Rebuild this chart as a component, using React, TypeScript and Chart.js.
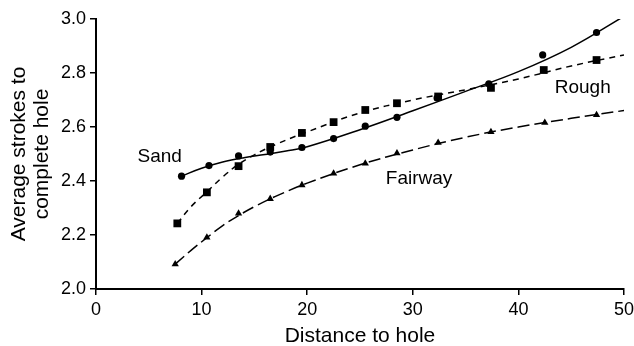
import React, { useEffect, useRef } from 'react';
import { Chart, registerables } from 'chart.js';

Chart.register(...registerables);

const FONT = '"Liberation Sans", Arial, Helvetica, sans-serif';

const xTicks = [0, 10, 20, 30, 40, 50];
const yTicks = [2.0, 2.2, 2.4, 2.6, 2.8, 3.0];
const yTickLabels = ['2.0', '2.2', '2.4', '2.6', '2.8', '3.0'];

// Observed points
const sandX = [8.1, 10.7, 13.5, 16.5, 19.5, 22.5, 25.5, 28.5, 32.3, 37.2, 42.3, 47.4];
const sandY = [2.418, 2.457, 2.493, 2.507, 2.524, 2.557, 2.603, 2.636, 2.707, 2.76, 2.867, 2.95];
const roughX = [7.7, 10.5, 13.5, 16.5, 19.5, 22.5, 25.5, 28.5, 32.4, 37.4, 42.4, 47.4];
const roughY = [2.243, 2.358, 2.455, 2.526, 2.578, 2.618, 2.663, 2.688, 2.713, 2.745, 2.811, 2.848];
const fairwayX = [7.5, 10.5, 13.5, 16.5, 19.5, 22.5, 25.5, 28.5, 32.4, 37.4, 42.5, 47.4];
const fairwayY = [2.092, 2.191, 2.28, 2.334, 2.385, 2.428, 2.465, 2.503, 2.542, 2.582, 2.616, 2.645];

// Fitted curves
const sandCurveX = [8.1, 10, 12, 14, 16, 18, 20, 25, 30, 35, 40, 45, 50];
const sandCurveY = [2.418, 2.447, 2.47, 2.486, 2.498, 2.511, 2.527, 2.59, 2.66, 2.732, 2.805, 2.895, 3.01];
const roughCurveX = [7.7, 9, 10.5, 12, 13.5, 15, 17, 20, 25, 30, 35, 40, 45, 50];
const roughCurveY = [2.243, 2.305, 2.36, 2.415, 2.462, 2.497, 2.535, 2.582, 2.652, 2.7, 2.738, 2.778, 2.826, 2.867];
const fairwayCurveX = [7.5, 9, 10.5, 12, 13.5, 15, 17, 20, 25, 30, 35, 40, 45, 50];
const fairwayCurveY = [2.092, 2.143, 2.19, 2.235, 2.272, 2.305, 2.343, 2.392, 2.46, 2.515, 2.562, 2.6, 2.632, 2.661];

// Series labels
const labelNames = ['Sand', 'Rough', 'Fairway'];
const labelX = [6.03, 46.09, 30.59];
const labelY = [2.49, 2.745, 2.407];

const zip = (xs: number[], ys: number[]) => xs.map((x, i) => ({ x, y: ys[i] }));

const labelPlugin = {
  id: 'seriesLabels',
  afterDatasetsDraw(chart: any) {
    const { ctx, scales } = chart;
    const xs = scales.x;
    const ys = scales.y;
    ctx.save();
    ctx.font = `19px ${FONT}`;
    ctx.fillStyle = '#000';
    ctx.textAlign = 'center';
    ctx.textBaseline = 'middle';
    labelNames.forEach((t, i) => {
      ctx.fillText(t, xs.getPixelForValue(labelX[i]), ys.getPixelForValue(labelY[i]));
    });
    ctx.restore();
  },
};

export default function App() {
  const ref = useRef<HTMLCanvasElement | null>(null);

  useEffect(() => {
    if (!ref.current) return;
    const curve = (xs: number[], ys: number[], dash: number[]) => ({
      data: zip(xs, ys),
      showLine: true,
      borderColor: '#000',
      borderWidth: 1.5,
      borderDash: dash,
      pointRadius: 0,
      tension: 0.4,
      fill: false,
    });
    const pts = (xs: number[], ys: number[], style: string, r: number) => ({
      data: zip(xs, ys),
      showLine: false,
      pointStyle: style,
      pointRadius: r,
      pointBackgroundColor: '#000',
      pointBorderColor: '#000',
      pointBorderWidth: 0,
    });
    const chart = new Chart(ref.current, {
      type: 'scatter',
      data: {
        datasets: [
          curve(sandCurveX, sandCurveY, []),
          curve(roughCurveX, roughCurveY, [6, 5]),
          curve(fairwayCurveX, fairwayCurveY, [12, 5]),
          pts(sandX, sandY, 'circle', 3.6),
          pts(roughX, roughY, 'rect', 5.5),
          pts(fairwayX, fairwayY, 'triangle', 4.2),
        ] as any,
      },
      options: {
        animation: false,
        responsive: true,
        maintainAspectRatio: false,
        layout: { padding: { left: 8, top: 19, right: 10, bottom: 0 } },
        plugins: { legend: { display: false }, tooltip: { enabled: false } },
        scales: {
          x: {
            type: 'linear',
            min: 0,
            max: 50,
            afterBuildTicks: (s: any) => {
              s.ticks = xTicks.map((v) => ({ value: v }));
            },
            afterFit: (s: any) => {
              s.height = 57;
              s.paddingRight = 0;
              s.paddingLeft = 0;
            },
            ticks: {
              font: { family: FONT, size: 18 },
              color: '#000',
              padding: 4,
              maxRotation: 0,
              autoSkip: false,
            },
            grid: { drawOnChartArea: false, drawTicks: true, tickLength: 6, color: '#000', lineWidth: 1.5 },
            border: { display: true, color: '#000', width: 2 },
            title: {
              display: true,
              text: 'Distance to hole',
              color: '#000',
              font: { family: FONT, size: 21, lineHeight: 1.095 },
              padding: { top: 0, bottom: -2 },
            },
          },
          y: {
            type: 'linear',
            min: 2,
            max: 3,
            afterBuildTicks: (s: any) => {
              s.ticks = yTicks.map((v) => ({ value: v }));
            },
            afterFit: (s: any) => {
              s.width = 88;
              s.paddingTop = 0;
              s.paddingBottom = 0;
            },
            ticks: {
              font: { family: FONT, size: 18 },
              color: '#000',
              padding: 4,
              autoSkip: false,
              callback: (_v: any, i: number) => yTickLabels[i],
            },
            grid: { drawOnChartArea: false, drawTicks: true, tickLength: 6, color: '#000', lineWidth: 1.5 },
            border: { display: true, color: '#000', width: 2 },
            title: {
              display: true,
              text: ['Average strokes to', 'complete hole'],
              color: '#000',
              font: { family: FONT, size: 21, lineHeight: 1.095 },
              padding: { top: 0, bottom: 0 },
            },
          },
        },
      } as any,
      plugins: [labelPlugin],
    });
    return () => chart.destroy();
  }, []);

  return (
    <div style={{ position: 'fixed', left: 0, top: 0, width: 634, height: 346 }}>
      <canvas ref={ref} />
    </div>
  );
}
